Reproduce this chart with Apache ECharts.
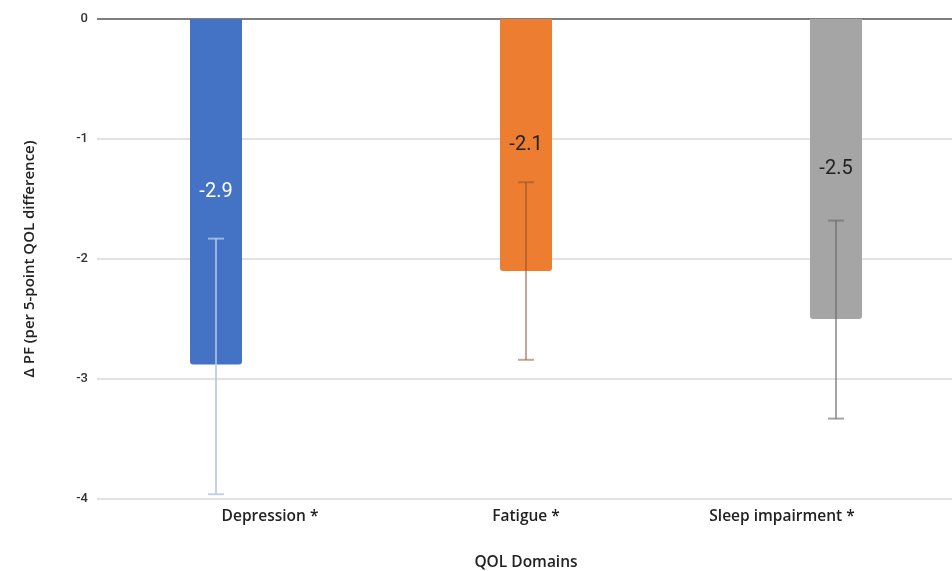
<!DOCTYPE html>
<html>
<head>
<meta charset="utf-8">
<script src="https://cdn.jsdelivr.net/npm/echarts@6/dist/echarts.min.js"></script>
<style>
html,body{margin:0;padding:0;background:#fff;}
#chart{width:952px;height:571px;}
</style>
</head>
<body>
<div id="chart"></div>
<script>
const categories = ['Depression *', 'Fatigue *', 'Sleep impairment *'];
const values = [-2.88, -2.1, -2.5];
const ciLow = [-3.96, -2.84, -3.33];
const ciHigh = [-1.83, -1.36, -1.68];
const barColors = ['#4472C4', '#ED7D31', '#A5A5A5'];
const errColors = ['rgba(180,199,231,0.8)', 'rgba(140,80,40,0.5)', 'rgba(105,105,105,0.6)'];
const labelColors = ['#ffffff', '#222222', '#222222'];
const yTicks = [-4, -3, -2, -1, 0];

const chart = echarts.init(document.getElementById('chart'));
const font = '"Open Sans", "DejaVu Sans", sans-serif';

const option = {
  animation: false,
  backgroundColor: '#ffffff',
  grid: [
    {left: 61, width: 930, top: 19, height: 480, outerBoundsMode: 'none', containLabel: false},
    {left: 97, right: 0, top: 19, height: 480, outerBoundsMode: 'none', containLabel: false},
    {left: 142, width: 768, top: 19, height: 480, outerBoundsMode: 'none', containLabel: false}
  ],
  xAxis: [
    {type: 'category', gridIndex: 0, data: categories, show: false},
    {type: 'value', gridIndex: 1, min: 0, max: 1, show: false},
    {
      type: 'category', gridIndex: 2, data: categories,
      axisLine: {show: false}, axisTick: {show: false},
      axisLabel: {margin: 10, color: '#222', fontFamily: font, fontWeight: 600, fontSize: 15.5},
      name: 'QOL Domains', nameLocation: 'middle', nameGap: 56,
      nameTextStyle: {color: '#222', fontFamily: font, fontWeight: 600, fontSize: 15.5}
    }
  ],
  yAxis: [
    {type: 'value', gridIndex: 0, min: yTicks[0], max: yTicks[yTicks.length - 1], interval: 1, show: false},
    {
      type: 'value', gridIndex: 1, min: yTicks[0], max: yTicks[yTicks.length - 1], interval: 1,
      axisLine: {show: false}, axisTick: {show: false},
      axisLabel: {margin: 9, color: '#333', fontFamily: 'Roboto, sans-serif', fontWeight: 500, fontSize: 13},
      splitLine: {show: true, lineStyle: {color: ['#d9d9d9', '#d9d9d9', '#d9d9d9', '#d9d9d9', '#555555'], width: 1.5}},
      name: '\u0394 PF (per 5-point QOL difference)', nameLocation: 'middle', nameGap: 60,
      nameTextStyle: {color: '#222', fontFamily: font, fontWeight: 600, fontSize: 15}
    },
    {type: 'value', gridIndex: 2, min: yTicks[0], max: yTicks[yTicks.length - 1], interval: 1, show: false}
  ],
  series: [
    {
      type: 'bar', xAxisIndex: 0, yAxisIndex: 0, barWidth: 52,
      data: values.map((v, i) => ({
        value: v,
        itemStyle: {color: barColors[i], borderRadius: [0, 0, 3, 3]},
        label: {color: labelColors[i]}
      })),
      label: {
        show: true, position: 'inside', fontFamily: 'Roboto, sans-serif', fontSize: 20,
        formatter: p => p.value.toFixed(1)
      },
      z: 2
    },
    {
      type: 'custom', xAxisIndex: 0, yAxisIndex: 0,
      data: categories.map((c, i) => [i, ciLow[i], ciHigh[i]]),
      renderItem: function (params, api) {
        const i = api.value(0);
        const lo = api.coord([i, api.value(1)]);
        const hi = api.coord([i, api.value(2)]);
        const hw = 8;
        const style = {stroke: errColors[i], lineWidth: 2, fill: null};
        return {
          type: 'group',
          children: [
            {type: 'line', shape: {x1: lo[0], y1: lo[1], x2: hi[0], y2: hi[1]}, style: style},
            {type: 'line', shape: {x1: lo[0] - hw, y1: lo[1], x2: lo[0] + hw, y2: lo[1]}, style: style},
            {type: 'line', shape: {x1: hi[0] - hw, y1: hi[1], x2: hi[0] + hw, y2: hi[1]}, style: style}
          ]
        };
      },
      z: 3
    }
  ]
};
chart.setOption(option);
</script>
</body>
</html>
